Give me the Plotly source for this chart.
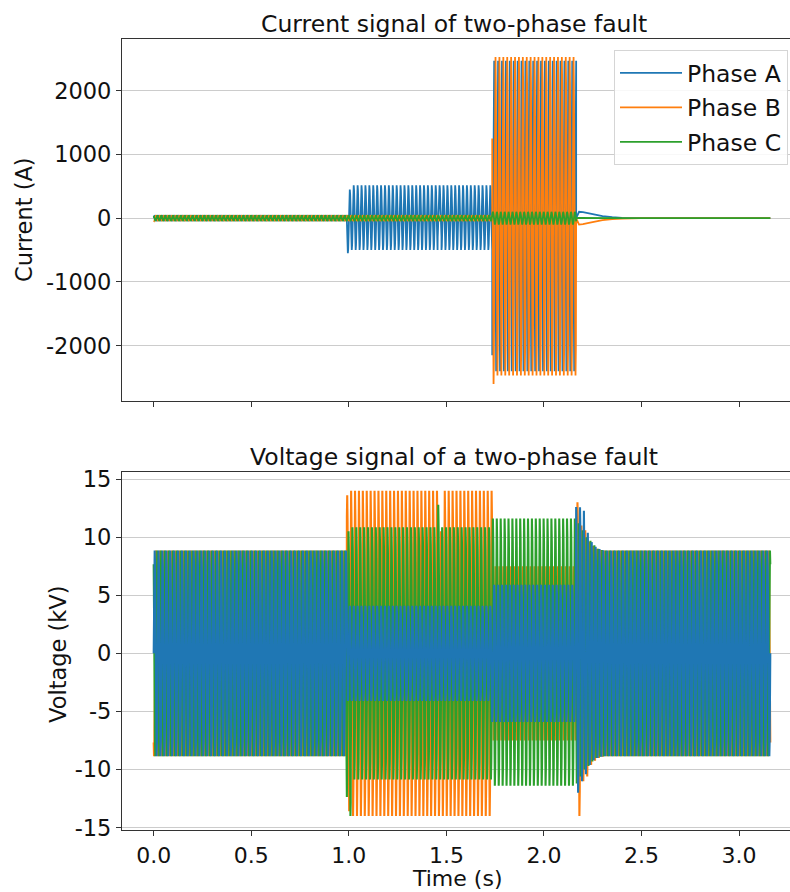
import numpy as np
import plotly.graph_objects as go
from plotly.subplots import make_subplots

# ---------------------------------------------------------------------------
# Recorded waveforms of a two-phase fault, described as per-segment peak
# envelopes of a 50 Hz system. Each segment holds the upper / lower peak
# of every phase; the waveform is the 50 Hz carrier scaled to those peaks.
# ---------------------------------------------------------------------------
FREQ_HZ = 50.0
SAMPLE_RATE = 4000.0          # samples per second
T_END = 3.16                  # s

PHASES = ["Phase A", "Phase B", "Phase C"]
COLORS = ["#1f77b4", "#ff7f0e", "#2ca02c"]
PHASE_SHIFT_DEG = [0.0, -120.0, 120.0]

# ----- Current (A) ---------------------------------------------------------
I_SEG_START = [0.0, 0.99, 1.01, 1.455, 1.475, 1.735, 1.755]
I_SEG_STOP = 2.165            # breaker opens
I_UPPER_A = [45, 450, 515, 515, 515, 2470, 2470]
I_LOWER_A = [-45, -550, -500, -290, -500, -2150, -2400]
I_UPPER_B = [45, 45, 45, 45, 45, 2530, 2530]
I_LOWER_B = [-45, -45, -45, -45, -45, -2600, -2470]
I_UPPER_C = [45, 45, 45, 45, 45, 100, 100]
I_LOWER_C = [-45, -45, -45, -45, -45, -100, -100]

# residual DC after the breaker opens
I_TAIL_T = [2.165, 2.18, 2.20, 2.23, 2.26, 2.30, 2.35, 2.40, 2.50, 3.16]
I_TAIL_A = [0, 100, 95, 75, 55, 32, 15, 6, 1, 0]
I_TAIL_B = [0, -100, -95, -75, -55, -32, -15, -6, -1, 0]
I_TAIL_C = [0, 5, 4, 3, 2, 1, 0, 0, 0, 0]

# ----- Voltage (kV) --------------------------------------------------------
V_SEG_START = [0.0, 0.99, 1.01, 1.455, 1.475, 1.735,
               2.165, 2.185, 2.205, 2.225, 2.245, 2.265, 2.285, 2.305]
V_UPPER_A = [8.85, 4.1, 4.1, 4.1, 4.1, 5.9,
             12.6, 12.3, 10.4, 9.6, 9.2, 9.0, 8.9, 8.85]
V_LOWER_A = [-8.85, -4.1, -4.1, -4.1, -4.1, -5.9,
             -12.0, -11.0, -10.4, -9.6, -9.2, -9.0, -8.9, -8.85]
V_UPPER_B = [8.85, 13.6, 14.0, 10.5, 14.0, 7.5,
             13.0, 11.0, 10.6, 9.6, 9.25, 9.0, 8.9, 8.85]
V_LOWER_B = [-8.85, -13.6, -14.0, -14.0, -14.0, -7.5,
             -14.0, -11.0, -10.6, -9.6, -9.25, -9.0, -8.9, -8.85]
V_UPPER_C = [8.85, 10.5, 10.85, 12.8, 10.85, 11.6,
             11.2, 10.6, 10.0, 9.7, 9.3, 9.0, 8.9, 8.85]
V_LOWER_C = [-8.85, -14.0, -10.85, -10.85, -10.85, -11.4,
             -11.2, -10.6, -10.0, -9.7, -9.3, -9.0, -8.9, -8.85]

X_TICKS = [0.0, 0.5, 1.0, 1.5, 2.0, 2.5, 3.0]
I_TICKS = [-2000, -1000, 0, 1000, 2000]
V_TICKS = [-15, -10, -5, 0, 5, 10, 15]


def waveform(seg_start, seg_stop, upper, lower, shift_deg):
    """50 Hz carrier whose peaks follow the per-segment envelope."""
    t = np.arange(0.0, seg_stop + 1e-9, 1.0 / SAMPLE_RATE)
    bounds = list(seg_start[1:]) + [seg_stop + 1.0]
    idx = np.searchsorted(np.array(bounds), t, side="right")
    hi = np.array(upper, dtype=float)[idx]
    lo = np.array(lower, dtype=float)[idx]
    carrier = np.sin(2 * np.pi * FREQ_HZ * t + np.deg2rad(shift_deg))
    return t, (hi + lo) / 2 + (hi - lo) / 2 * carrier


FONT = "DejaVu Sans"
FS = 22.5
FS_X = 22
FS_TITLE = 23.5
INK = "#111111"
LW_I = 1.8
LW_V = 2.1
W, H = 790, 892
PLOT_BOTTOM = 830
ML, MR, MT, MB = 122, 0, 39, H - PLOT_BOTTOM
PW, PH = W - ML - MR, H - MT - MB

fig = make_subplots(rows=2, cols=1, shared_xaxes=False,
                    vertical_spacing=0.0)

# current traces (C drawn last, on top)
i_upper = [I_UPPER_A, I_UPPER_B, I_UPPER_C]
i_lower = [I_LOWER_A, I_LOWER_B, I_LOWER_C]
i_tail = [I_TAIL_A, I_TAIL_B, I_TAIL_C]
for k in range(3):
    t, y = waveform(I_SEG_START, I_SEG_STOP, i_upper[k], i_lower[k],
                    PHASE_SHIFT_DEG[k])
    t = np.concatenate([t, I_TAIL_T])
    y = np.concatenate([y, i_tail[k]])
    fig.add_trace(go.Scatter(x=t, y=y, mode="lines", name=PHASES[k],
                             legendgroup=PHASES[k],
                             line=dict(color=COLORS[k], width=LW_I)),
                  row=1, col=1)

# voltage traces (A drawn last, on top)
v_upper = [V_UPPER_A, V_UPPER_B, V_UPPER_C]
v_lower = [V_LOWER_A, V_LOWER_B, V_LOWER_C]
for k in [1, 2, 0]:
    t, y = waveform(V_SEG_START, T_END, v_upper[k], v_lower[k],
                    PHASE_SHIFT_DEG[k])
    fig.add_trace(go.Scatter(x=t, y=y, mode="lines", name=PHASES[k],
                             legendgroup=PHASES[k], showlegend=False,
                             line=dict(color=COLORS[k], width=LW_V)),
                  row=2, col=1)


def px_to_paper_x(px):
    return (px - ML) / PW


def px_to_paper_y(py):
    return (H - MB - py) / PH


top_dom = [px_to_paper_y(400.7), 1.0]
bot_dom = [0.0, px_to_paper_y(472.3)]

axis_common = dict(
    showline=True, linecolor="#333333", linewidth=1.2,
    ticks="outside", ticklen=5, tickwidth=1.1, tickcolor="#333333",
    tickfont=dict(family=FONT, size=FS, color=INK),
    zeroline=False,
)
X_RANGE = [-0.1625, 3.261]

fig.update_xaxes(range=X_RANGE, tickvals=X_TICKS, showgrid=False,
                 mirror=True, **axis_common)
fig.update_xaxes(showticklabels=False, domain=[0, 1], row=1, col=1)
fig.update_xaxes(ticktext=[f"{v:.1f}" for v in X_TICKS], domain=[0, 1],
                 tickfont=dict(family=FONT, size=FS_X, color=INK),
                 row=2, col=1)

fig.update_yaxes(showgrid=True, gridcolor="#cccccc", gridwidth=1,
                 mirror=False, **axis_common)
fig.update_yaxes(range=[-2863, 2810], tickvals=I_TICKS,
                 ticktext=[str(v) for v in I_TICKS], domain=top_dom,
                 row=1, col=1)
fig.update_yaxes(range=[-15.2, 15.58], tickvals=V_TICKS,
                 ticktext=[str(v) for v in V_TICKS], domain=bot_dom,
                 row=2, col=1)

annotations = [
    dict(text="Current signal of two-phase fault", x=px_to_paper_x(453.5),
         y=px_to_paper_y(24), xanchor="center", yanchor="middle",
         font=dict(family=FONT, size=FS_TITLE, color=INK)),
    dict(text="Voltage signal of a two-phase fault", x=px_to_paper_x(453.5),
         y=px_to_paper_y(457), xanchor="center", yanchor="middle",
         font=dict(family=FONT, size=FS_TITLE, color=INK)),
    dict(text="Current (A)", x=px_to_paper_x(24), y=px_to_paper_y(220),
         xanchor="center", yanchor="middle", textangle=-90),
    dict(text="Voltage (kV)", x=px_to_paper_x(58), y=px_to_paper_y(654),
         xanchor="center", yanchor="middle", textangle=-90),
    dict(text="Time (s)", x=px_to_paper_x(457), y=px_to_paper_y(892),
         xanchor="center", yanchor="bottom", borderpad=0,
         font=dict(family=FONT, size=FS_X, color=INK)),
]
for a in annotations:
    a.update(xref="paper", yref="paper", showarrow=False)
    a.setdefault("font", dict(family=FONT, size=FS, color=INK))

fig.update_layout(
    width=W, height=H,
    margin=dict(l=ML, r=MR, t=MT, b=MB),
    paper_bgcolor="white", plot_bgcolor="white",
    font=dict(family=FONT, size=FS, color=INK),
    annotations=annotations,
    showlegend=True,
    legend=dict(x=px_to_paper_x(788), y=px_to_paper_y(50),
                xanchor="right", yanchor="top",
                traceorder="grouped", tracegroupgap=1,
                bgcolor="rgba(255,255,255,0.85)", bordercolor="#d5d5d5",
                borderwidth=1,
                font=dict(family=FONT, size=23.5, color=INK),
                itemwidth=62),
)

fig.write_html("out.html")
